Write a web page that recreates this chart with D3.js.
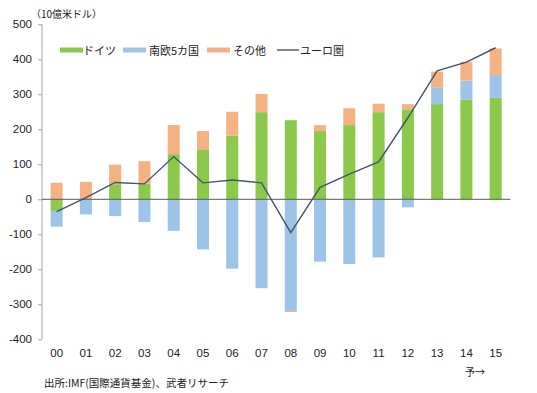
<!DOCTYPE html>
<html><head><meta charset="utf-8">
<script src="https://cdn.jsdelivr.net/npm/d3@7"></script>
<style>
body{margin:0;background:#fff;}
svg{display:block;font-family:"Liberation Sans","Noto Sans CJK JP",sans-serif;}
</style></head>
<body>
<svg id="c" width="537" height="393"></svg>
<script>
const years = ["00","01","02","03","04","05","06","07","08","09","10","11","12","13","14","15"];
const germany = [-33, 0, 43, 45, 129, 141, 182, 249, 226, 195, 212, 249, 257, 272, 285, 290];
const southEurope = [-45, -43, -48, -65, -90, -143, -198, -254, -319, -178, -185, -166, -23, 48, 54, 65];
const others = [47, 50, 56, 64, 83, 54, 68, 52, -3, 17, 48, 24, 15, 45, 54, 76];
const euroArea = [-35, 5, 48, 44, 122, 47, 55, 47, -95, 34, 72, 107, 233, 367, 392, 433];
const yTicks = [500, 400, 300, 200, 100, 0, -100, -200, -300, -400];
const seriesNames = ["ドイツ", "南欧5カ国", "その他", "ユーロ圏"];
const colors = ["#8CC84B", "#9DC3E6", "#F4B183", "#44546A"];

const svg = d3.select("#c");
const x = d3.scaleBand().domain(years).range([42, 510.3]).paddingInner(0.59).paddingOuter(0.295);
const y = d3.scaleLinear().domain([-400, 500]).range([339.3, 24.3]);

const rows = years.map((yr, i) => ({year: yr, g: germany[i], s: southEurope[i], o: others[i]}));
const stack = d3.stack().keys(["g", "s", "o"]).offset(d3.stackOffsetDiverging);
const layers = stack(rows);

// y axis
const yAxis = d3.axisLeft(y).tickValues(yTicks).tickSize(4).tickPadding(6).tickFormat(d3.format("d"));
const ga = svg.append("g").attr("transform", "translate(42,0)").call(yAxis);
ga.select(".domain").attr("stroke", "#a6a6a6").attr("d", `M0,${y(500)}V${y(-400)}`);
ga.selectAll(".tick line").attr("stroke", "#a6a6a6");
ga.selectAll(".tick text").attr("font-size", 11.5).attr("fill", "#222")
  .text(d => d < 0 ? "-" + Math.abs(d) : d);

// bars
svg.append("g").selectAll("g").data(layers).join("g")
  .attr("fill", (d, i) => colors[i])
  .selectAll("rect").data(d => d).join("rect")
  .attr("x", d => x(d.data.year))
  .attr("width", x.bandwidth())
  .attr("y", d => y(Math.max(d[0], d[1])))
  .attr("height", d => Math.abs(y(d[0]) - y(d[1])));

// zero line
svg.append("line").attr("x1", 42).attr("x2", 510.3).attr("y1", y(0)).attr("y2", y(0))
  .attr("stroke", "#595959").attr("stroke-width", 1);

// x labels
svg.append("g").selectAll("text").data(years).join("text")
  .attr("x", d => x(d) + x.bandwidth() / 2).attr("y", 357)
  .attr("text-anchor", "middle").attr("font-size", 11.5).attr("fill", "#222").text(d => d);

// euro line
const line = d3.line().x((d, i) => x(years[i]) + x.bandwidth() / 2).y(d => y(d));
svg.append("path").datum(euroArea).attr("d", line).attr("fill", "none")
  .attr("stroke", colors[3]).attr("stroke-width", 1.4);

// legend
const legend = [
  {sx: 60, tx: 83, i: 0},
  {sx: 123, tx: 149, i: 1},
  {sx: 207, tx: 233, i: 2},
  {sx: 277, tx: 300, i: 3}
];
legend.forEach(l => {
  if (l.i < 3) {
    svg.append("rect").attr("x", l.sx).attr("y", 47.5).attr("width", 23).attr("height", 5).attr("fill", colors[l.i]);
  } else {
    svg.append("line").attr("x1", l.sx).attr("x2", l.sx + 22).attr("y1", 50).attr("y2", 50)
      .attr("stroke", colors[3]).attr("stroke-width", 1.4);
  }
  svg.append("text").attr("x", l.tx).attr("y", 54.5).attr("font-size", 11).attr("fill", "#222")
    .attr("font-family", "Noto Sans CJK JP").text(seriesNames[l.i]);
});

// unit label
svg.append("text").attr("x", 31).attr("y", 17.5).attr("font-size", 10).attr("fill", "#222")
  .attr("font-family", "Noto Sans CJK JP").text("（10億米ドル）");

// forecast mark
svg.append("text").attr("x", 465).attr("y", 375.5).attr("font-size", 10).attr("fill", "#222")
  .attr("font-family", "Noto Sans CJK JP").text("予→");

// source
svg.append("text").attr("x", 44).attr("y", 387).attr("font-size", 10.5).attr("fill", "#222")
  .attr("font-family", "Noto Sans CJK JP").text("出所:IMF(国際通貨基金)、武者リサーチ");
</script>
</body></html>
